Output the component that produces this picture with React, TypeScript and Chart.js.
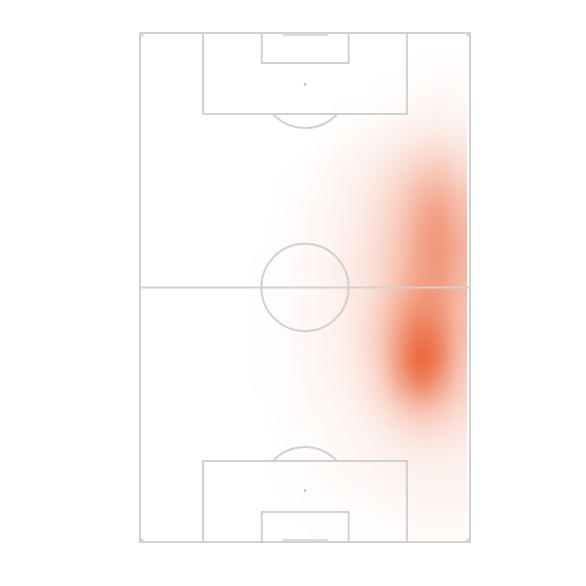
import React, { useEffect, useRef } from "react";
import { Chart, registerables } from "chart.js";

Chart.register(...registerables);

// Pitch dimensions (metres)
const pitchLength = 105;
const pitchWidth = 68;

// Markings (metres)
const penaltyBoxX = [13.0, 55.0];
const penaltyBoxDepth = 16.7;
const sixYardX = [25.1, 43.0];
const sixYardDepth = 6.2;
const penaltySpotDist = 10.6;
const circleRadius = 9.0;
const goalX = [29.4, 38.7];
const cornerRadius = 0.6;

// Heatmap grid: column centres (x, metres), row centres (y, metres)
const heatX = [2, 6, 10, 14, 18, 22, 26, 30, 34, 38, 42, 46, 50, 54, 58, 62, 66];
const heatY = [2.5, 7.5, 12.5, 17.5, 22.5, 27.5, 32.5, 37.5, 42.5, 47.5, 52.5, 57.5, 62.5, 67.5, 72.5, 77.5, 82.5, 87.5, 92.5, 97.5, 102.5];
// intensity per cell (rows follow heatY, columns follow heatX)
const heatValues = [
  [0, 0, 0, 0, 0, 0, 0, 0, 0, 0, 0, 0, 0, 0, 0, 0, 0],
  [0, 0, 0, 0, 0, 0, 0, 0, 0, 0, 0, 0, 0, 0, 0.01, 0.02, 0.02],
  [0, 0, 0, 0, 0, 0, 0, 0, 0, 0, 0, 0, 0.01, 0.02, 0.03, 0.04, 0.03],
  [0, 0, 0, 0, 0, 0, 0, 0, 0, 0, 0.01, 0.02, 0.03, 0.05, 0.07, 0.08, 0.06],
  [0, 0, 0, 0, 0, 0, 0, 0, 0, 0.01, 0.03, 0.05, 0.07, 0.11, 0.15, 0.17, 0.13],
  [0, 0, 0, 0, 0, 0, 0, 0, 0.01, 0.03, 0.05, 0.08, 0.13, 0.2, 0.27, 0.3, 0.22],
  [0, 0, 0, 0, 0, 0, 0, 0.01, 0.02, 0.04, 0.07, 0.11, 0.18, 0.28, 0.4, 0.45, 0.33],
  [0, 0, 0, 0, 0, 0, 0, 0.01, 0.03, 0.05, 0.08, 0.13, 0.21, 0.33, 0.5, 0.57, 0.42],
  [0, 0, 0, 0, 0, 0, 0, 0.02, 0.03, 0.05, 0.09, 0.14, 0.23, 0.36, 0.55, 0.62, 0.46],
  [0, 0, 0, 0, 0, 0, 0.01, 0.02, 0.04, 0.06, 0.1, 0.15, 0.24, 0.38, 0.56, 0.62, 0.46],
  [0, 0, 0, 0, 0, 0, 0.01, 0.02, 0.04, 0.06, 0.1, 0.16, 0.26, 0.43, 0.58, 0.58, 0.42],
  [0, 0, 0, 0, 0, 0, 0.01, 0.02, 0.04, 0.06, 0.1, 0.17, 0.31, 0.53, 0.68, 0.62, 0.4],
  [0, 0, 0, 0, 0, 0, 0.01, 0.02, 0.04, 0.06, 0.1, 0.18, 0.35, 0.63, 0.82, 0.7, 0.4],
  [0, 0, 0, 0, 0, 0, 0.01, 0.02, 0.04, 0.06, 0.09, 0.17, 0.34, 0.68, 0.92, 0.72, 0.37],
  [0, 0, 0, 0, 0, 0, 0.01, 0.02, 0.03, 0.05, 0.08, 0.14, 0.28, 0.54, 0.72, 0.55, 0.3],
  [0, 0, 0, 0, 0, 0, 0, 0.02, 0.03, 0.04, 0.06, 0.1, 0.18, 0.31, 0.39, 0.33, 0.22],
  [0, 0, 0, 0, 0, 0, 0, 0.01, 0.02, 0.03, 0.05, 0.07, 0.11, 0.16, 0.2, 0.19, 0.14],
  [0, 0, 0, 0, 0, 0, 0, 0.01, 0.02, 0.03, 0.04, 0.05, 0.07, 0.09, 0.11, 0.11, 0.09],
  [0, 0, 0, 0, 0, 0, 0, 0.01, 0.01, 0.02, 0.03, 0.04, 0.05, 0.06, 0.07, 0.08, 0.07],
  [0, 0, 0, 0, 0, 0, 0, 0, 0.01, 0.01, 0.02, 0.02, 0.03, 0.04, 0.05, 0.05, 0.05],
  [0, 0, 0, 0, 0, 0, 0, 0, 0, 0.01, 0.01, 0.01, 0.01, 0.02, 0.03, 0.03, 0.03],
];

const heatRGB = [232, 88, 40];
const lineColor = "#d1d1d1";
const goalColor = "#dcdcdc";

const heatmapPlugin = {
  id: "heatmap",
  beforeDatasetsDraw(chart: any) {
    const { ctx, scales } = chart;
    const xs = scales.x;
    const ys = scales.y;
    const cols = heatX.length;
    const rows = heatY.length;
    const off = document.createElement("canvas");
    off.width = cols;
    off.height = rows;
    const octx = off.getContext("2d")!;
    const img = octx.createImageData(cols, rows);
    for (let r = 0; r < rows; r++) {
      for (let c = 0; c < cols; c++) {
        const i = (r * cols + c) * 4;
        img.data[i] = heatRGB[0];
        img.data[i + 1] = heatRGB[1];
        img.data[i + 2] = heatRGB[2];
        img.data[i + 3] = Math.round(heatValues[r][c] * 255);
      }
    }
    octx.putImageData(img, 0, 0);
    const dx = (heatX[1] - heatX[0]) / 2;
    const dy = (heatY[1] - heatY[0]) / 2;
    const x0 = xs.getPixelForValue(heatX[0] - dx);
    const x1 = xs.getPixelForValue(heatX[cols - 1] + dx);
    const y0 = ys.getPixelForValue(heatY[0] - dy);
    const y1 = ys.getPixelForValue(heatY[rows - 1] + dy);
    ctx.save();
    ctx.beginPath();
    ctx.rect(xs.getPixelForValue(0), ys.getPixelForValue(0), xs.getPixelForValue(pitchWidth - 0.6) - xs.getPixelForValue(0), ys.getPixelForValue(pitchLength) - ys.getPixelForValue(0));
    ctx.clip();
    ctx.imageSmoothingEnabled = true;
    (ctx as any).imageSmoothingQuality = "high";
    ctx.drawImage(off, x0, y0, x1 - x0, y1 - y0);
    ctx.restore();
  },
};

const pitchPlugin = {
  id: "pitch",
  afterDatasetsDraw(chart: any) {
    const { ctx, scales } = chart;
    const X = (v: number) => scales.x.getPixelForValue(v);
    const Y = (v: number) => scales.y.getPixelForValue(v);
    const R = (v: number) => Math.abs(X(v) - X(0));
    ctx.save();
    ctx.strokeStyle = lineColor;
    ctx.lineWidth = 2;
    const rect = (xa: number, ya: number, xb: number, yb: number) => {
      ctx.beginPath();
      ctx.rect(X(xa), Y(ya), X(xb) - X(xa), Y(yb) - Y(ya));
      ctx.stroke();
    };
    const line = (xa: number, ya: number, xb: number, yb: number) => {
      ctx.beginPath();
      ctx.moveTo(X(xa), Y(ya));
      ctx.lineTo(X(xb), Y(yb));
      ctx.stroke();
    };
    rect(0, 0, pitchWidth, pitchLength);
    line(0, pitchLength / 2, pitchWidth, pitchLength / 2);
    ctx.beginPath();
    ctx.arc(X(pitchWidth / 2), Y(pitchLength / 2), R(circleRadius), 0, Math.PI * 2);
    ctx.stroke();
    rect(penaltyBoxX[0], 0, penaltyBoxX[1], penaltyBoxDepth);
    rect(penaltyBoxX[0], pitchLength - penaltyBoxDepth, penaltyBoxX[1], pitchLength);
    rect(sixYardX[0], 0, sixYardX[1], sixYardDepth);
    rect(sixYardX[0], pitchLength - sixYardDepth, sixYardX[1], pitchLength);
    const half = Math.acos((penaltyBoxDepth - penaltySpotDist) / circleRadius);
    ctx.beginPath();
    ctx.arc(X(pitchWidth / 2), Y(penaltySpotDist), R(circleRadius), Math.PI / 2 - half, Math.PI / 2 + half);
    ctx.stroke();
    ctx.beginPath();
    ctx.arc(X(pitchWidth / 2), Y(pitchLength - penaltySpotDist), R(circleRadius), -Math.PI / 2 - half, -Math.PI / 2 + half);
    ctx.stroke();
    const cr = R(cornerRadius);
    ctx.beginPath(); ctx.arc(X(0), Y(0), cr, 0, Math.PI / 2); ctx.stroke();
    ctx.beginPath(); ctx.arc(X(pitchWidth), Y(0), cr, Math.PI / 2, Math.PI); ctx.stroke();
    ctx.beginPath(); ctx.arc(X(0), Y(pitchLength), cr, -Math.PI / 2, 0); ctx.stroke();
    ctx.beginPath(); ctx.arc(X(pitchWidth), Y(pitchLength), cr, Math.PI, Math.PI * 1.5); ctx.stroke();
    ctx.strokeStyle = goalColor;
    line(goalX[0], 0.4, goalX[1], 0.4);
    line(goalX[0], pitchLength - 0.4, goalX[1], pitchLength - 0.4);
    ctx.fillStyle = "#bdbdbd";
    ctx.beginPath(); ctx.arc(X(pitchWidth / 2), Y(penaltySpotDist), 1.3, 0, Math.PI * 2); ctx.fill();
    ctx.beginPath(); ctx.arc(X(pitchWidth / 2), Y(pitchLength - penaltySpotDist), 1.3, 0, Math.PI * 2); ctx.fill();
    ctx.restore();
  },
};

export default function App() {
  const ref = useRef<HTMLCanvasElement>(null);
  useEffect(() => {
    document.body.style.margin = "0";
    const chart = new Chart(ref.current!, {
      type: "scatter",
      data: { datasets: [{ data: [], pointRadius: 0 }] },
      options: {
        animation: false,
        responsive: false,
        devicePixelRatio: 1,
        layout: { padding: { left: 140, top: 33, right: 116, bottom: 44 } },
        plugins: { legend: { display: false }, tooltip: { enabled: false } },
        scales: {
          x: { type: "linear", min: 0, max: pitchWidth, display: false },
          y: { type: "linear", min: 0, max: pitchLength, reverse: true, display: false },
        },
      },
      plugins: [heatmapPlugin, pitchPlugin],
    });
    return () => chart.destroy();
  }, []);
  return (
    <div style={{ width: 586, height: 586, background: "#fff" }}>
      <canvas ref={ref} width={586} height={586} />
    </div>
  );
}
